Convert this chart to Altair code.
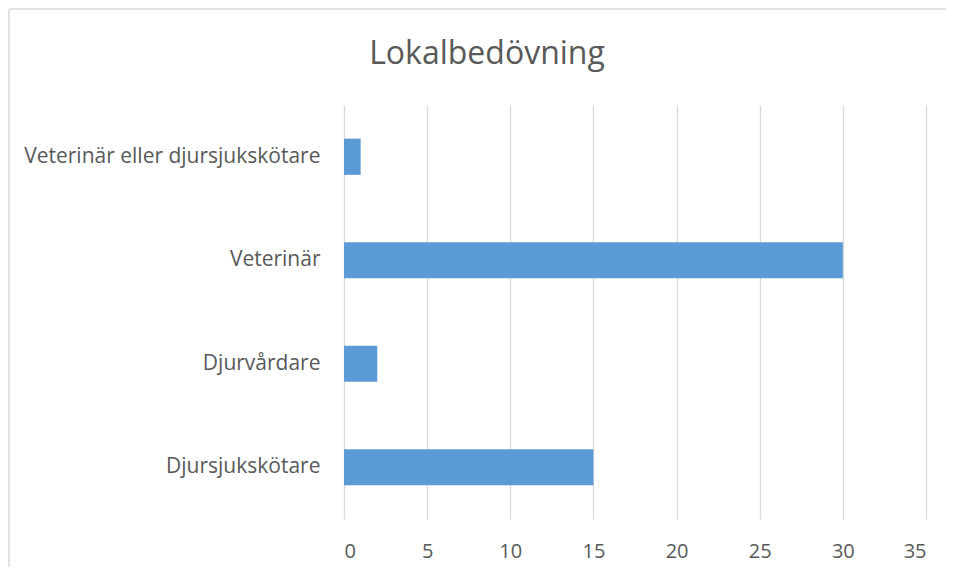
import altair as alt
import pandas as pd

title_text = "Lokalbedövning"
categories = ["Veterinär eller djursjukskötare", "Veterinär", "Djurvårdare", "Djursjukskötare"]
values = [1, 30, 2, 15]
x_ticks = [0, 5, 10, 15, 20, 25, 30, 35]

df = pd.DataFrame({"kategori": categories, "antal": values})

FONT = "Open Sans"
TEXT = "#595959"
BORDER = "#D9D9D9"

bars = alt.Chart(df).mark_bar(color="#5B9BD5").encode(
    x=alt.X("antal:Q",
            scale=alt.Scale(domain=[0, 35], nice=False),
            axis=alt.Axis(values=x_ticks, title=None, domain=False, ticks=False,
                          labelFontSize=20, labelColor=TEXT, labelFont=FONT,
                          labelPadding=22, grid=True, gridColor="#D9D9D9",
                          gridWidth=1.3)),
    y=alt.Y("kategori:N", sort=categories,
            scale=alt.Scale(paddingInner=0.65, paddingOuter=0.325),
            axis=alt.Axis(title=None, domain=False, ticks=False,
                          labelFontSize=21, labelColor=TEXT, labelFont=FONT,
                          labelPadding=24, labelLimit=400)),
)

one = pd.DataFrame({"b": [0]})
border_top = alt.Chart(one).mark_rule(stroke=BORDER, strokeWidth=1.5).encode(
    x=alt.value(-335), x2=alt.value(602), y=alt.value(-96),
)
border_left = alt.Chart(one).mark_rule(stroke=BORDER, strokeWidth=1.5).encode(
    x=alt.value(-335), y=alt.value(-96), y2=alt.value(462),
)

title = alt.Chart(pd.DataFrame({"t": [title_text]})).mark_text(
    font=FONT, fontSize=32, color=TEXT, align="center", baseline="middle"
).encode(
    text="t:N", x=alt.value(143), y=alt.value(-51),
)

chart = alt.layer(border_top, border_left, title, bars).properties(
    width=582,
    height=414,
    autosize=alt.AutoSizeParams(type="none"),
    padding={"left": 336, "top": 97, "right": 20, "bottom": 48},
).configure(background="white").configure_view(stroke=None)

chart.save("out.html", embed_options={"renderer": "svg", "actions": False})
